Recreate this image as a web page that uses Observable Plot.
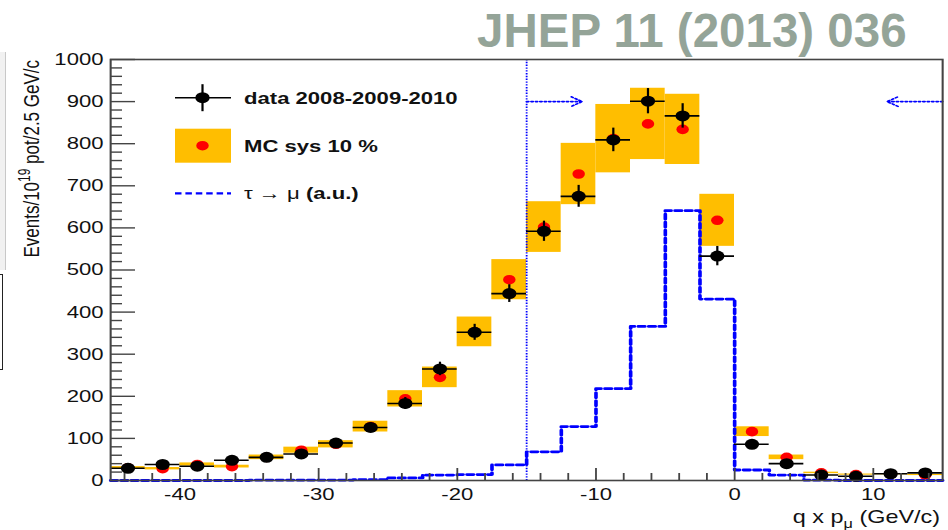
<!DOCTYPE html>
<html>
<head>
<meta charset="utf-8">
<script src="https://cdn.jsdelivr.net/npm/d3@7"></script>
<script src="https://cdn.jsdelivr.net/npm/@observablehq/plot@0.6"></script>
<style>
  html, body { margin: 0; padding: 0; background: #fff; }
  #wrap { position: relative; width: 948px; height: 530px; overflow: hidden; }
  #chart { position: absolute; left: 0; top: 0; }
  #ref {
    position: absolute; left: 477px; top: 7px;
    font: bold 47.5px "Liberation Sans", Arial, Helvetica, sans-serif;
    line-height: 47.5px; color: #94a498; white-space: nowrap;
  }
  #edge1 { position: absolute; left: 0; top: 52px; width: 5px; height: 218px; background: #f1f1f1; border-right: 1px solid #c8c8c8; }
  #edge2 { position: absolute; left: 0; top: 274px; width: 2px; height: 94px; border: 1.5px solid #222; border-left: none; }
</style>
</head>
<body>
<div id="wrap">
  <div id="chart"></div>
  <div id="edge1"></div>
  <div id="edge2"></div>
  <div id="ref">JHEP 11 (2013) 036</div>
</div>
<script>
// q x p_mu bins (GeV/c), 2.5 GeV/c wide
const binCenters = [-43.75, -41.25, -38.75, -36.25, -33.75, -31.25, -28.75, -26.25,
                    -23.75, -21.25, -18.75, -16.25, -13.75, -11.25, -8.75, -6.25,
                    -3.75, -1.25, 1.25, 3.75, 6.25, 8.75, 11.25, 13.75];
const binWidth = 2.5;

// data 2008-2009-2010, events / 10^19 pot / 2.5 GeV/c, with statistical errors
const dataValues = [29, 38, 34, 48, 55, 63, 89, 126, 183, 265, 352, 444,
                    592, 675, 809, 901, 866, 533, 86, 40, 13, 10, 16, 18];
const dataErrors = [5, 6, 6, 7, 7, 8, 9, 11, 14, 16, 19, 21,
                    24, 26, 28, 30, 29, 23, 9, 6, 4, 3, 4, 4];

// Monte Carlo prediction and its systematic band
const mcValues = [30, 28, 38, 33, 55, 72, 86, 128, 194, 245, 353, 477,
                  602, 728, 812, 847, 834, 618, 116, 55, 18, 14, 15, 13];
const mcSys = 0.10;

// tau -> mu signal shape (arbitrary units)
const tauValues = [0, 0, 0, 0, 1, 1, 1, 2, 6, 13, 14, 37,
                   68, 128, 218, 366, 641, 431, 25, 13, 1, 0, 0, 0];

// selection window
const cutLine = [-15];
const cutArrows = [{from: -15, to: -11, y: 900}, {from: 15, to: 11, y: 900}];

// axes
const xDomain = [-45, 15];
const yDomain = [0, 1000];
const xTicks = [-40, -30, -20, -10, 0, 10];
const xTickLabels = ["-40", "-30", "-20", "-10", "0", "10"];
const xMinorTicks = [-44, -42, -38, -36, -34, -32, -28, -26, -24, -22, -18, -16, -14, -12,
                     -8, -6, -4, -2, 2, 4, 6, 8, 12, 14];
const yTicks = [0, 100, 200, 300, 400, 500, 600, 700, 800, 900, 1000];
const yTickLabels = ["0", "100", "200", "300", "400", "500", "600", "700", "800", "900", "1000"];
const yMinorTicks = d3.range(0, 1001, 20).filter(v => v % 100 !== 0);

const legendLabels = ["data 2008-2009-2010", "MC sys 10 %", "(a.u.)"];

const ORANGE = "#ffbe00";
const RED = "#ff0000";
const BLUE = "#0000ff";
const FONT = '"Liberation Sans", Arial, Helvetica, sans-serif';

const bins = binCenters.map((c, i) => ({
  x: c, lo: c - binWidth / 2, hi: c + binWidth / 2,
  data: dataValues[i], err: dataErrors[i], mc: mcValues[i]
}));
const tauSteps = binCenters.map((c, i) => ({x: c - binWidth / 2, y: tauValues[i]}))
  .concat([{x: binCenters[binCenters.length - 1] + binWidth / 2, y: tauValues[tauValues.length - 1]}]);

// the figure is drawn in a narrower space and stretched horizontally
const S = 1.3;
const W = 948, H = 530;
const W0 = W / S;
const mL = 110 / S, mR = 6 / S, mT = 59, mB = 50;
const frameW = W0 - mL - mR, frameH = H - mT - mB;

const plot = Plot.plot({
  width: W0, height: H,
  marginLeft: mL, marginRight: mR, marginTop: mT, marginBottom: mB,
  style: {fontFamily: FONT, fontSize: "17px", color: "#111", background: "white"},
  x: {domain: xDomain, axis: null},
  y: {domain: yDomain, axis: null},
  marks: [
    Plot.rect(bins, {x1: "lo", x2: "hi", y1: d => d.mc * (1 - mcSys), y2: d => d.mc * (1 + mcSys), fill: ORANGE}),
    Plot.dot(bins, {x: "x", y: "mc", r: 4.8, fill: RED}),
    Plot.line(tauSteps, {x: "x", y: "y", curve: "step-after", stroke: BLUE, strokeWidth: 2.8, strokeDasharray: "5,3"}),
    Plot.ruleX(cutLine, {stroke: BLUE, strokeWidth: 1.4, strokeDasharray: "1.4,1.4"}),
    Plot.arrow(cutArrows, {x1: "from", x2: "to", y1: "y", y2: "y", stroke: BLUE, strokeWidth: 1.6,
                           strokeDasharray: "1.6,1.8", headLength: 9}),
    Plot.ruleY(bins, {y: "data", x1: "lo", x2: "hi", stroke: "#000", strokeWidth: 1.6}),
    Plot.ruleX(bins, {x: "x", y1: d => d.data - d.err, y2: d => d.data + d.err, stroke: "#000", strokeWidth: 1.7}),
    Plot.dot(bins, {x: "x", y: "data", r: 5.5, fill: "#000"}),
    Plot.tickY(yTicks, {y: d => d, insetRight: frameW - 25 / S, stroke: "#444", strokeWidth: 1.4}),
    Plot.tickY(yMinorTicks, {y: d => d, insetRight: frameW - 12 / S, stroke: "#444", strokeWidth: 1.4}),
    Plot.tickX(xTicks, {x: d => d, insetTop: frameH - 12, stroke: "#444", strokeWidth: 1.4}),
    Plot.tickX(xMinorTicks, {x: d => d, insetTop: frameH - 7, stroke: "#444", strokeWidth: 1.4}),
    Plot.frame({stroke: "#444", strokeWidth: 1.6}),
    Plot.axisY({ticks: yTicks, tickFormat: d => yTickLabels[yTicks.indexOf(d)], tickSize: 0, tickPadding: 5.5,
                fontSize: 17, label: null}),
    Plot.axisX({ticks: xTicks, tickFormat: d => xTickLabels[xTicks.indexOf(d)], tickSize: 0, tickPadding: 7,
                fontSize: 17, label: null})
  ]
});

const svg = d3.select(plot);

// axis titles
const ytitle = svg.append("text")
  .attr("transform", `translate(30,${mT + 1}) rotate(-90)`)
  .attr("text-anchor", "end")
  .attr("font-family", FONT).attr("font-size", 17).attr("fill", "#111");
ytitle.append("tspan").text("Events/10");
ytitle.append("tspan").attr("font-size", 12).attr("dy", -7).text("19");
ytitle.append("tspan").attr("dy", 7).text(" pot/2.5 GeV/c");

const xtitle = svg.append("text")
  .attr("x", 940 / S).attr("y", 523)
  .attr("text-anchor", "end")
  .attr("font-family", FONT).attr("font-size", 18).attr("fill", "#111");
xtitle.append("tspan").text("q x p");
xtitle.append("tspan").attr("font-size", 12.5).attr("dy", 5).text("μ");
xtitle.append("tspan").attr("dy", -5).text(" (GeV/c)");

// legend
const lg = svg.append("g").attr("font-family", FONT).attr("font-size", 17).attr("fill", "#111")
  .attr("text-anchor", "start");
const lx = 202.5 / S, lx1 = 175 / S, lx2 = 231 / S, tx = 244 / S;
const rows = [97.7, 145.7, 193.3];

lg.append("line").attr("x1", lx1).attr("x2", lx2).attr("y1", rows[0]).attr("y2", rows[0])
  .attr("stroke", "#000").attr("stroke-width", 1.6);
lg.append("line").attr("x1", lx).attr("x2", lx).attr("y1", rows[0] - 13.5).attr("y2", rows[0] + 13.5)
  .attr("stroke", "#000").attr("stroke-width", 1.7);
lg.append("circle").attr("cx", lx).attr("cy", rows[0]).attr("r", 5.5).attr("fill", "#000");
lg.append("text").attr("x", tx).attr("y", rows[0]).attr("dy", "0.35em").attr("font-weight", "bold").text(legendLabels[0]);

lg.append("rect").attr("x", lx1).attr("y", rows[1] - 17).attr("width", lx2 - lx1).attr("height", 34).attr("fill", ORANGE);
lg.append("circle").attr("cx", lx).attr("cy", rows[1]).attr("r", 4.8).attr("fill", RED);
lg.append("text").attr("x", tx).attr("y", rows[1]).attr("dy", "0.35em").attr("font-weight", "bold").text(legendLabels[1]);

lg.append("line").attr("x1", lx1).attr("x2", lx2).attr("y1", rows[2]).attr("y2", rows[2])
  .attr("stroke", BLUE).attr("stroke-width", 2.2).attr("stroke-dasharray", "5,3");
const tl = lg.append("text").attr("x", tx).attr("y", rows[2]).attr("dy", "0.35em");
tl.append("tspan").text("τ → μ ");
tl.append("tspan").attr("font-weight", "bold").text(legendLabels[2]);

// stretch to the full window width
plot.setAttribute("width", W);
plot.setAttribute("height", H);
plot.setAttribute("preserveAspectRatio", "none");
plot.style.width = W + "px";
plot.style.height = H + "px";
plot.style.maxWidth = "none";

document.getElementById("chart").appendChild(plot);
</script>
</body>
</html>
